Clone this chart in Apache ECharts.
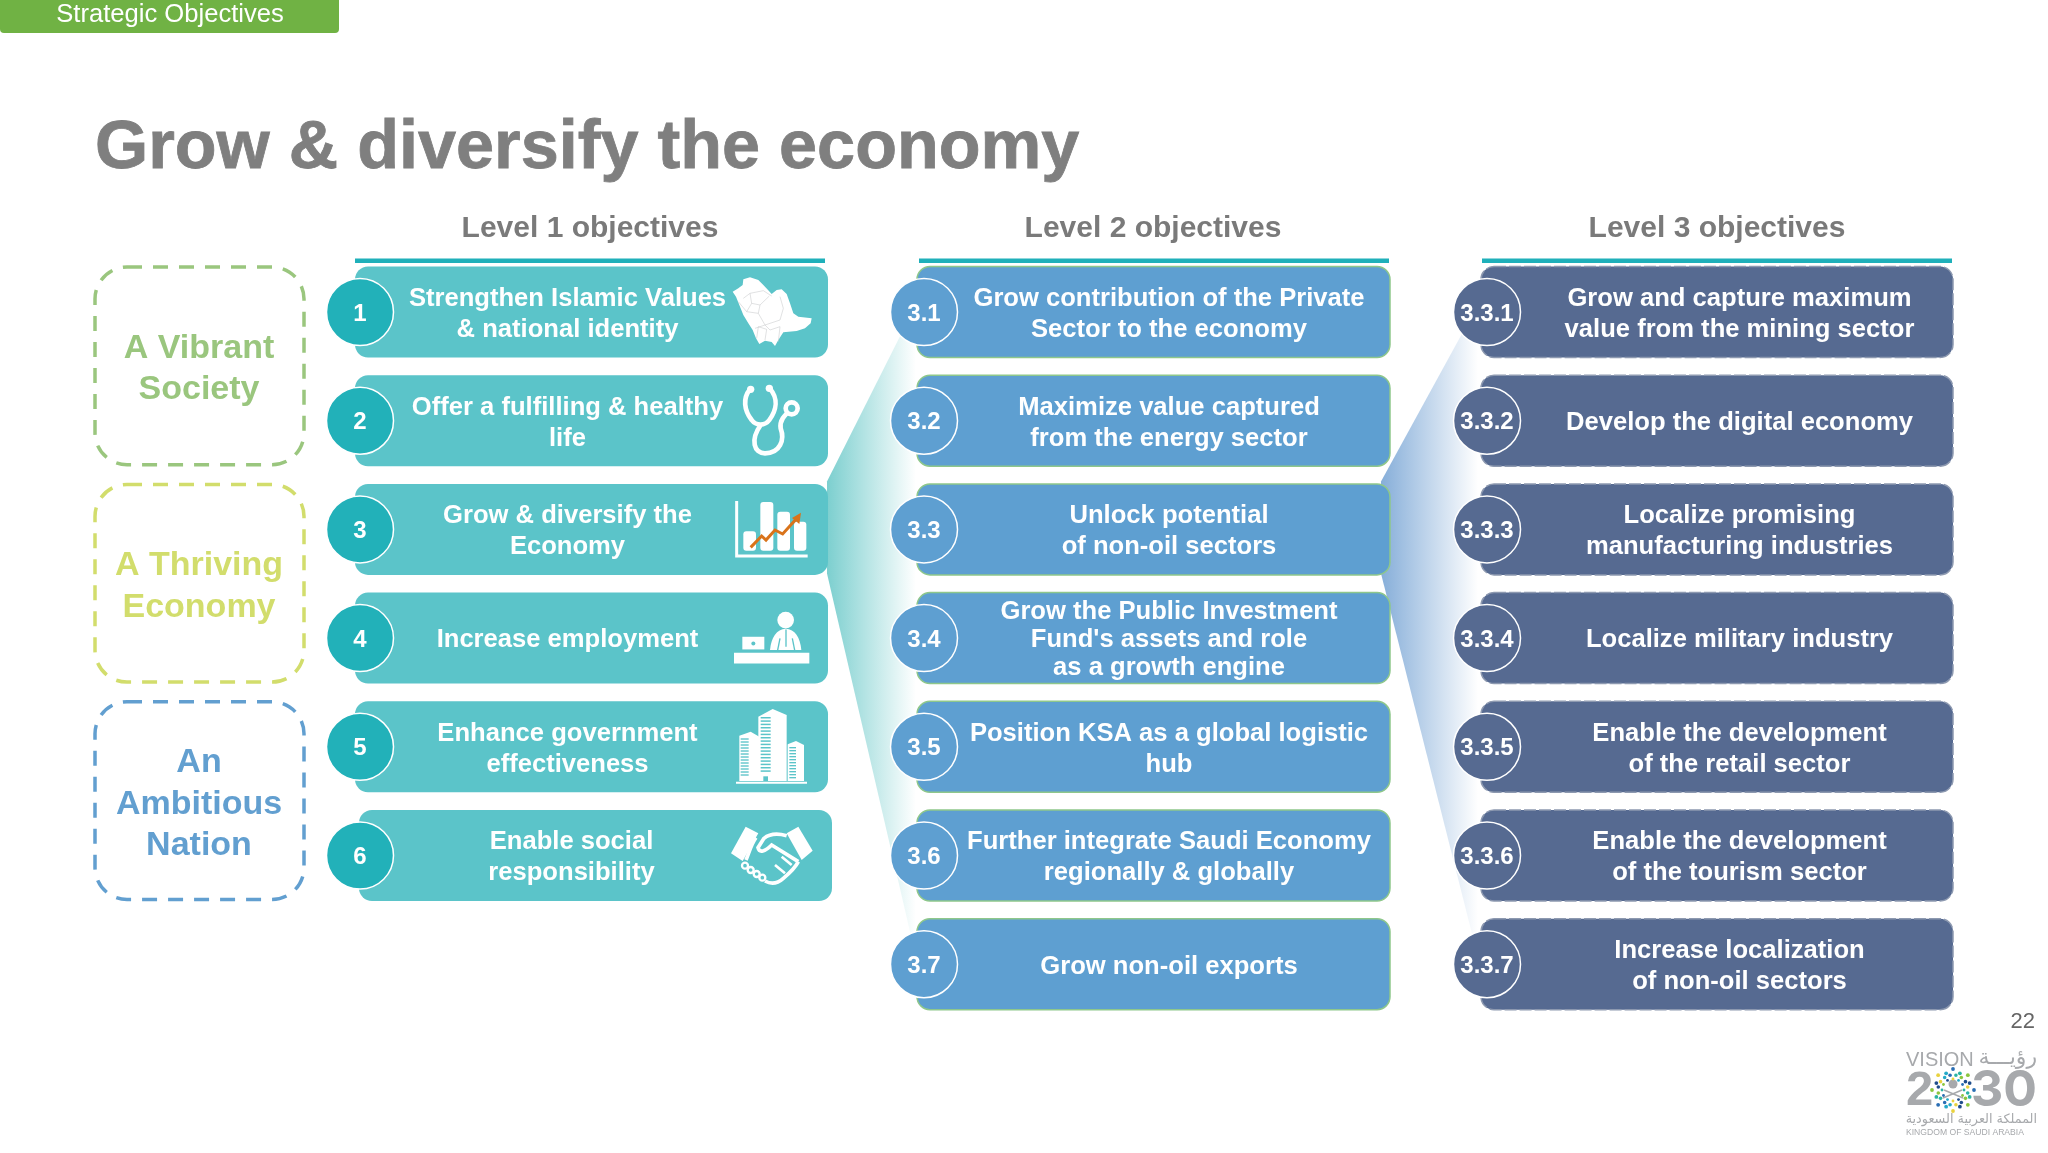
<!DOCTYPE html>
<html>
<head>
<meta charset="utf-8">
<style>html,body{margin:0;padding:0;background:#fff}#main{width:2048px;height:1153px}</style>
<script src="https://cdn.jsdelivr.net/npm/echarts@6/dist/echarts.min.js"></script>
</head>
<body>
<div id="main"></div>
<script>
const rows = ["r1", "r2", "r3", "r4", "r5", "r6", "r7"];

const pillarLabels = ["A Vibrant\nSociety", "A Thriving\nEconomy", "An\nAmbitious\nNation"];
const pillarFirstRow = [0, 2, 4];
const pillarLastRow = [1, 3, 5];

const level1Codes = ["1", "2", "3", "4", "5", "6"];
const level1Labels = [
  "Strengthen Islamic Values\n& national identity",
  "Offer a fulfilling & healthy\nlife",
  "Grow & diversify the\nEconomy",
  "Increase employment",
  "Enhance government\neffectiveness",
  "Enable social\nresponsibility",
];
const level2Codes = ["3.1", "3.2", "3.3", "3.4", "3.5", "3.6", "3.7"];
const level2Labels = [
  "Grow contribution of the Private\nSector to the economy",
  "Maximize value captured\nfrom the energy sector",
  "Unlock potential\nof non-oil sectors",
  "Grow the Public Investment\nFund's assets and role\nas a growth engine",
  "Position KSA as a global logistic\nhub",
  "Further integrate Saudi Economy\nregionally & globally",
  "Grow non-oil exports",
];
const level3Codes = ["3.3.1", "3.3.2", "3.3.3", "3.3.4", "3.3.5", "3.3.6", "3.3.7"];
const level3Labels = [
  "Grow and capture maximum\nvalue from the mining sector",
  "Develop the digital economy",
  "Localize promising\nmanufacturing industries",
  "Localize military industry",
  "Enable the development\nof the retail sector",
  "Enable the development\nof the tourism sector",
  "Increase localization\nof non-oil sectors",
];
const headers = ["Level 1 objectives", "Level 2 objectives", "Level 3 objectives"];

const FONT = '"Liberation Sans", Arial, sans-serif';
const PITCH = 108.7;
const BOX_H = 45.5;

// one coloured column of objectives: rounded box, numbered circle, text
function objectiveColumn(codes, labels, c) {
  return {
    type: "custom",
    coordinateSystem: "cartesian2d",
    z: 3,
    data: labels.map((_, i) => [0, i]),
    encode: { x: 0, y: 1 },
    renderItem(params, api) {
      const i = params.dataIndex;
      const y = api.coord([0, api.value(1)])[1];
      const shift = c.rowShift ? c.rowShift[i] : 0;
      const lines = labels[i].split("\n").length;
      return {
        type: "group",
        children: [
          { type: "rect", shape: { x: c.left + shift, y: y - BOX_H, width: c.width, height: BOX_H * 2, r: 13 },
            style: { fill: c.fill, stroke: c.border, lineWidth: c.borderWidth, lineDash: c.dash || null } },
          { type: "circle", shape: { cx: c.circleX, cy: y, r: 33.5 },
            style: { fill: c.circle, stroke: "#ffffff", lineWidth: 1.5 } },
          { type: "text", x: c.circleX, y: y + 2,
            style: { text: codes[i], fill: "#fff", fontFamily: FONT, fontWeight: "bold", fontSize: 24, align: "center", verticalAlign: "middle" } },
          { type: "text", x: c.textX + shift, y: y + 2.3,
            style: { text: labels[i], fill: "#fff", fontFamily: FONT, fontWeight: "bold", fontSize: 25.6,
              lineHeight: lines > 2 ? 28 : 31, align: "center", verticalAlign: "middle" } },
        ],
      };
    },
  };
}

// fan wedge from box 3 out to the next column, fades to white
function fan(x0, x1, color) {
  return {
    type: "custom",
    coordinateSystem: "cartesian2d",
    z: 1,
    data: [[0, 2]],
    encode: { x: 0, y: 1 },
    renderItem(params, api) {
      const y = api.coord([0, api.value(1)])[1];
      return {
        type: "polygon",
        shape: { points: [[x0, y - 48], [x1, y - 225], [x1, y + 428], [x0, y + 44]] },
        style: { fill: { type: "linear", x: 0, y: 0, x2: 1, y2: 0,
          colorStops: [{ offset: 0, color }, { offset: 1, color: "#ffffff" }] } },
      };
    },
  };
}

const W = "#ffffff";
const TEAL = "#5bc4c9";
// icons are drawn in 3x units, origin y is relative to the row centre
const iconBuilders = [
  { k: 42, kids: () => {
    const lines = [
      [[40,85],[60,70],[100,62],[125,78]], [[60,70],[65,100],[90,105],[118,78]], [[25,95],[50,125],[65,100]],
      [[50,125],[85,130],[90,105]], [[85,130],[105,165],[150,150],[160,115],[150,80]], [[105,165],[120,180],[150,170]],
      [[150,170],[145,215]], [[75,175],[105,165]], [[80,205],[85,170],[110,178],[105,210]],
    ];
    return [
      { type: "polygon", shape: { points: [[40,28],[60,22],[85,30],[100,45],[112,58],[125,72],[140,60],[155,58],[170,72],[180,100],[190,130],[205,140],[245,145],[242,160],[225,175],[200,183],[160,187],[145,210],[135,228],[125,216],[105,212],[88,222],[78,205],[68,180],[55,160],[40,135],[28,105],[18,80],[8,65],[25,55],[38,45]] }, style: { fill: W } },
    ].concat(lines.map((points) => ({ type: "polyline", shape: { points }, style: { fill: null, stroke: "#c6c8ca", lineWidth: 1.6 } })));
  } },
  { k: 150.7, kids: () => [
    { type: "path", shape: { pathData: "M60 358 C38 385 42 420 65 450 C78 468 105 468 118 450 C140 420 145 385 120 356", x: 0, y: 0 }, style: { fill: null, stroke: W, lineWidth: 14 } },
    { type: "path", shape: { pathData: "M92 465 C60 510 72 550 105 550 C150 550 165 510 152 475 C148 450 165 435 185 415" }, style: { fill: null, stroke: W, lineWidth: 14 } },
    { type: "circle", shape: { cx: 62, cy: 358, r: 11 }, style: { fill: W } },
    { type: "circle", shape: { cx: 118, cy: 355, r: 11 }, style: { fill: W } },
    { type: "circle", shape: { cx: 185, cy: 415, r: 18 }, style: { fill: TEAL, stroke: W, lineWidth: 14 } },
  ] },
  { k: 39.4, kids: () => [
    { type: "polyline", shape: { points: [[20,33],[20,198],[233,198]] }, style: { fill: null, stroke: W, lineWidth: 9 } },
    { type: "rect", shape: { x: 40, y: 124, width: 38, height: 58, r: 9 }, style: { fill: W } },
    { type: "rect", shape: { x: 91, y: 36, width: 39, height: 146, r: 9 }, style: { fill: W } },
    { type: "rect", shape: { x: 142, y: 65, width: 38, height: 117, r: 9 }, style: { fill: W } },
    { type: "rect", shape: { x: 192, y: 95, width: 37, height: 87, r: 9 }, style: { fill: W } },
    { type: "polyline", shape: { points: [[62,172],[95,138],[108,150],[135,120],[158,132],[198,88]] }, style: { fill: null, stroke: "#d9731a", lineWidth: 9 } },
    { type: "polygon", shape: { points: [[213,68],[186,84],[208,102]] }, style: { fill: "#d9731a" } },
  ] },
  { k: 148, kids: () => [
    { type: "circle", shape: { cx: 167, cy: 390, r: 25 }, style: { fill: W } },
    { type: "path", shape: { pathData: "M120 480 C124 440 140 418 167 416 C195 418 210 440 214 480 Z" }, style: { fill: W } },
    { type: "polyline", shape: { points: [[150,445],[143,480]] }, style: { fill: null, stroke: TEAL, lineWidth: 4 } },
    { type: "polyline", shape: { points: [[187,445],[194,480]] }, style: { fill: null, stroke: TEAL, lineWidth: 4 } },
    { type: "polyline", shape: { points: [[168,418],[168,470]] }, style: { fill: null, stroke: TEAL, lineWidth: 4 } },
    { type: "rect", shape: { x: 37, y: 440, width: 66, height: 38 }, style: { fill: W } },
    { type: "circle", shape: { cx: 70, cy: 460, r: 6 }, style: { fill: TEAL } },
    { type: "rect", shape: { x: 12, y: 488, width: 226, height: 32 }, style: { fill: W } },
  ] },
  { k: 41.8, kids: () => {
    const stripes = (x, w, from, to, step) => {
      const out = [];
      for (let y = from; y <= to; y += step) {
        out.push({ type: "rect", shape: { x, y, width: w, height: step * 0.45 }, style: { fill: TEAL } });
      }
      return out;
    };
    return [
      { type: "polygon", shape: { points: [[28,92],[62,80],[88,95],[88,228],[28,228]] }, style: { fill: W } },
      { type: "polygon", shape: { points: [[85,35],[128,12],[170,30],[170,228],[85,228]] }, style: { fill: W } },
      { type: "polygon", shape: { points: [[173,118],[198,108],[222,120],[222,228],[173,228]] }, style: { fill: W } },
      { type: "rect", shape: { x: 18, y: 230, width: 213, height: 6 }, style: { fill: W } },
    ].concat(stripes(32, 24, 100, 215, 9), stripes(92, 30, 36, 205, 10), stripes(178, 20, 126, 218, 9),
      [{ type: "rect", shape: { x: 100, y: 214, width: 14, height: 14 }, style: { fill: TEAL } }]);
  } },
  { k: 150.5, kids: () => {
    const s = { fill: null, stroke: W, lineWidth: 11 };
    const links = [[45,482],[62,495],[80,507],[97,518]];
    return [
      { type: "polygon", shape: { points: [[47,365],[85,385],[38,468],[3,445]] }, style: { fill: W } },
      { type: "polygon", shape: { points: [[205,365],[248,437],[215,465],[170,385]] }, style: { fill: W } },
      { type: "path", shape: { pathData: "M170 392 C145 385 120 385 102 400 L84 428 C88 445 105 440 125 420 L205 470" }, style: s },
      { type: "path", shape: { pathData: "M205 470 C195 490 178 505 160 520 C140 538 122 538 105 528" }, style: s },
      { type: "path", shape: { pathData: "M78 398 C65 415 58 440 48 465" }, style: s },
      { type: "path", shape: { pathData: "M185 480 L155 455 M165 505 L135 480" }, style: { fill: null, stroke: W, lineWidth: 8 } },
    ].concat(links.map(([cx, cy]) => ({ type: "circle", shape: { cx, cy, r: 9 }, style: { fill: TEAL, stroke: W, lineWidth: 7 } })));
  } },
];

const series = [
  fan(827, 916, "#7ccfcf"),
  fan(1381, 1478, "#86aed9"),
  // dashed pillars on the left span two rows each
  {
    type: "custom",
    coordinateSystem: "cartesian2d",
    z: 3,
    data: pillarLabels.map((_, i) => [0, pillarFirstRow[i], pillarLastRow[i]]),
    encode: { x: 0, y: 1 },
    renderItem(params, api) {
      const i = params.dataIndex;
      const color = ["#9ac67e", "#d2dd6c", "#629fd0"][i];
      const top = api.coord([0, api.value(1)])[1] - 45;
      const bottom = api.coord([0, api.value(2)])[1] + 44;
      return {
        type: "group",
        children: [
          { type: "rect", shape: { x: 95, y: top, width: 209, height: bottom - top, r: 32 },
            style: { fill: "#fff", stroke: color, lineWidth: 3.5, lineDash: [15, 11] } },
          { type: "text", x: 199, y: (top + bottom) / 2 + 3.5,
            style: { text: pillarLabels[i], fill: color, fontFamily: FONT, fontWeight: "bold", fontSize: 34, lineHeight: 41.5, align: "center", verticalAlign: "middle" } },
        ],
      };
    },
  },
  objectiveColumn(level1Codes, level1Labels, { left: 355, width: 473, circleX: 360, textX: 567.5, fill: "#5bc4c9", circle: "#22b1b9", border: null, borderWidth: 0, rowShift: [0, 0, 0, 0, 0, 4] }),
  objectiveColumn(level2Codes, level2Labels, { left: 917, width: 473, circleX: 924, textX: 1169, fill: "#5e9fd1", circle: "#5e9fd1", border: "#8ec78b", borderWidth: 1.5 }),
  objectiveColumn(level3Codes, level3Labels, { left: 1481, width: 472, circleX: 1487, textX: 1739.5, fill: "#566a91", circle: "#566a91", border: "#8d99b0", borderWidth: 1.5, dash: [12, 3] }),
  {
    type: "custom",
    coordinateSystem: "cartesian2d",
    z: 4,
    data: iconBuilders.map((_, i) => [0, i]),
    encode: { x: 0, y: 1 },
    renderItem(params, api) {
      const b = iconBuilders[params.dataIndex];
      const y = api.coord([0, api.value(1)])[1];
      return { type: "group", x: 730, y: y - b.k, scaleX: 1 / 3, scaleY: 1 / 3, children: b.kids() };
    },
  },
];

// fixed page furniture: tab, rules, page number, logo
const grey = "#a7a9ac";
const logoText = (text, x, y, font, weight, size, align, fill) => ({
  type: "text", x, y, z: 6,
  style: { text, fontFamily: font, fontWeight: weight, fontSize: size, fill: fill || grey, align, verticalAlign: "middle" },
});
const starColors = ["#2a6eb4", "#2bb3a3", "#8cc63f", "#1f4e8c", "#e9d23f", "#25a9c9"];
const starDots = [];
[[20, 16, 1.9], [15, 16, 1.8], [11, 12, 1.4]].forEach(([r, n, size], ring) => {
  for (let i = 0; i < n; i++) {
    const a = (i + ring * 0.5) / n * Math.PI * 2;
    const rr = ring === 0 ? r + (i % 2 ? -2 : 1) : r;
    starDots.push({ type: "circle", z: 6, shape: { cx: 1953 + rr * Math.cos(a), cy: 1090 + rr * Math.sin(a), r: size },
      style: { fill: starColors[(i + ring) % starColors.length] } });
  }
});

const furniture = [
  { type: "rect", z: 6, shape: { x: 0, y: -6, width: 339, height: 39, r: 4 }, style: { fill: "#70b244" } },
  { type: "text", x: 170, y: 14.5, z: 7, style: { text: "Strategic Objectives", fontFamily: FONT, fontSize: 25.6, fill: "#fff", align: "center", verticalAlign: "middle" } },
  { type: "rect", z: 2, shape: { x: 355, y: 258.5, width: 470, height: 4.5 }, style: { fill: "#1fb0ba" } },
  { type: "rect", z: 2, shape: { x: 919, y: 258.5, width: 470, height: 4.5 }, style: { fill: "#1fb0ba" } },
  { type: "rect", z: 2, shape: { x: 1482, y: 258.5, width: 470, height: 4.5 }, style: { fill: "#1fb0ba" } },
  { type: "text", x: 590, y: 228.5, style: { text: headers[0], fontFamily: FONT, fontWeight: "bold", fontSize: 30, fill: "#7a7a7a", align: "center", verticalAlign: "middle" } },
  { type: "text", x: 1153, y: 228.5, style: { text: headers[1], fontFamily: FONT, fontWeight: "bold", fontSize: 30, fill: "#7a7a7a", align: "center", verticalAlign: "middle" } },
  { type: "text", x: 1717, y: 228.5, style: { text: headers[2], fontFamily: FONT, fontWeight: "bold", fontSize: 30, fill: "#7a7a7a", align: "center", verticalAlign: "middle" } },
  { type: "text", x: 2035, y: 1022, style: { text: "22", fontFamily: FONT, fontSize: 22, fill: "#666", align: "right", verticalAlign: "middle" } },
  logoText("VISION", 1906, 1060, FONT, "normal", 20, "left"),
  logoText("رؤيـــة", 2037, 1058, '"DejaVu Sans"', "normal", 22, "right"),
  logoText("2", 1906, 1091, FONT, "bold", 49, "left"),
  logoText("30", 2037, 1091, "Inter", "bold", 50, "right"),
  logoText("المملكة العربية السعودية", 2037, 1120, '"DejaVu Sans"', "normal", 12.8, "right"),
  logoText("KINGDOM OF SAUDI ARABIA", 1906, 1133, FONT, "normal", 8.6, "left"),
  { type: "circle", z: 6, shape: { cx: 1953, cy: 1084, r: 4.5 }, style: { fill: grey } },
  { type: "polyline", z: 6, shape: { points: [[1943, 1098], [1962, 1090]] }, style: { fill: null, stroke: grey, lineWidth: 1.5 } },
  { type: "polyline", z: 6, shape: { points: [[1963, 1098], [1944, 1090]] }, style: { fill: null, stroke: grey, lineWidth: 1.5 } },
].concat(starDots);

const chart = echarts.init(document.getElementById("main"));
chart.setOption({
  animation: false,
  backgroundColor: "#ffffff",
  title: {
    text: "Grow & diversify the economy",
    left: 90,
    top: 110,
    textStyle: { fontFamily: FONT, fontSize: 68.4, fontWeight: "bold", color: "#7f7f7f", textBorderColor: "#7f7f7f", textBorderWidth: 0.8 },
  },
  grid: { left: 0, top: 312 - PITCH / 2, width: 2048, height: PITCH * rows.length },
  xAxis: { type: "value", min: 0, max: 2048, show: false },
  yAxis: { type: "category", data: rows, inverse: true, show: false },
  graphic: { elements: furniture },
  series,
});
</script>
</body>
</html>
